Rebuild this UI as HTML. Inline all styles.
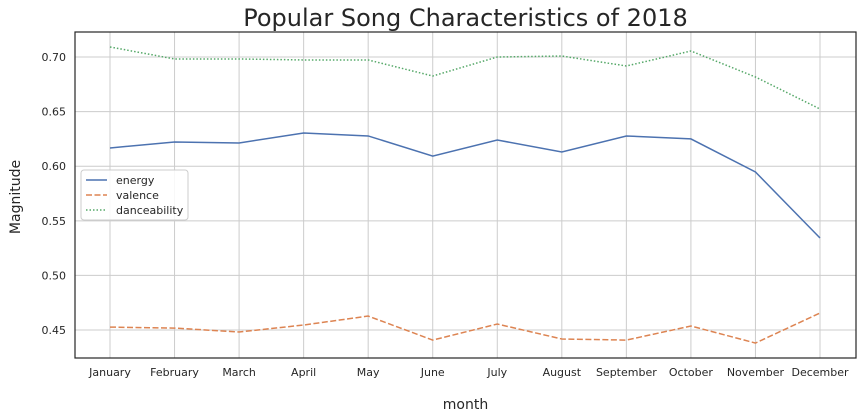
<!DOCTYPE html>
<html><head><meta charset="utf-8"><style>
html,body{margin:0;padding:0;background:#fff;}
svg{display:block;font-family:"DejaVu Sans","Liberation Sans",sans-serif;}
</style></head><body>
<svg id="chart" width="863" height="419"></svg>
<script>
const months=["January","February","March","April","May","June","July","August","September","October","November","December"];
const energy=[0.6167,0.6222,0.6213,0.6304,0.6277,0.6093,0.6240,0.6130,0.6277,0.6250,0.5947,0.5343];
const valence=[0.4527,0.4518,0.4482,0.4546,0.4628,0.4408,0.4555,0.4418,0.4408,0.4537,0.4381,0.4656];
const danceability=[0.7092,0.6982,0.6982,0.6973,0.6973,0.6826,0.7000,0.7009,0.6918,0.7055,0.6817,0.6524];
const yTicks=[0.45,0.50,0.55,0.60,0.65,0.70];
const yTickLabels=["0.45","0.50","0.55","0.60","0.65","0.70"];

const NS="http://www.w3.org/2000/svg";
const svg=document.getElementById('chart');
const L=75,R=856,T=32,B=358;
const yMin=0.4244,yMax=0.7229;
function x(i){return 110+i*(820-110)/(months.length-1);}
function y(v){return B-(v-yMin)/(yMax-yMin)*(B-T);}
function mk(tag,attrs,parent){const e=document.createElementNS(NS,tag);for(const k in attrs)e.setAttribute(k,attrs[k]);(parent||svg).appendChild(e);return e;}

const grid=mk('g',{});


months.forEach((m,i)=>{
  const l=mk('line',{x1:x(i),x2:x(i),y1:T,y2:B,stroke:'#cccccc','stroke-width':1},grid);
  
  
  const t=mk('text',{x:x(i),y:376,'text-anchor':'middle','font-size':11,fill:'#262626'});
  t.textContent=m;
  
  
});
yTicks.forEach((v,i)=>{
  const l=mk('line',{x1:L,x2:R,y1:y(v),y2:y(v),stroke:'#cccccc','stroke-width':1},grid);
  
  
  const t=mk('text',{x:66,y:y(v)+4,'text-anchor':'end','font-size':11,fill:'#262626'});
  t.textContent=yTickLabels[i];
  
  
});
const frame=mk('rect',{x:L,y:T,width:R-L,height:B-T,fill:'none',stroke:'#262626','stroke-width':1.2});



function series(data,color,dash,name){
  const p=mk('polyline',{points:data.map((v,i)=>x(i)+','+y(v)).join(' '),fill:'none',stroke:color,'stroke-width':1.5,'stroke-dasharray':dash});
  
  
}
series(energy,'#4c72b0','none','energy-line');
series(valence,'#dd8452','6,2.5','valence-line');
series(danceability,'#55a868','1.5,2','danceability-line');

const title=mk('text',{x:465.5,y:26,'text-anchor':'middle','font-size':24,fill:'#262626'});
title.textContent='Popular Song Characteristics of 2018';


const xt=mk('text',{x:465.5,y:409,'text-anchor':'middle','font-size':14,fill:'#262626'});
xt.textContent='month';


const yt=mk('text',{x:20,y:197,'text-anchor':'middle','font-size':14,fill:'#262626',transform:'rotate(-90 20 197)'});
yt.textContent='Magnitude';



const leg=mk('g',{});


const lb=mk('rect',{x:81,y:170,width:107,height:50,rx:3,fill:'#fff','fill-opacity':0.85,stroke:'#cccccc'},leg);


[['energy','#4c72b0','none'],['valence','#dd8452','6,2.5'],['danceability','#55a868','1.5,2']].forEach((d,i)=>{
  const yy=180+i*15;
  const l=mk('line',{x1:86,x2:107,y1:yy,y2:yy,stroke:d[1],'stroke-width':1.5,'stroke-dasharray':d[2]},leg);
  
  
  const t=mk('text',{x:116,y:yy+4,'font-size':11,fill:'#262626'},leg);
  t.textContent=d[0];
  
  
});
</script>
</body></html>
